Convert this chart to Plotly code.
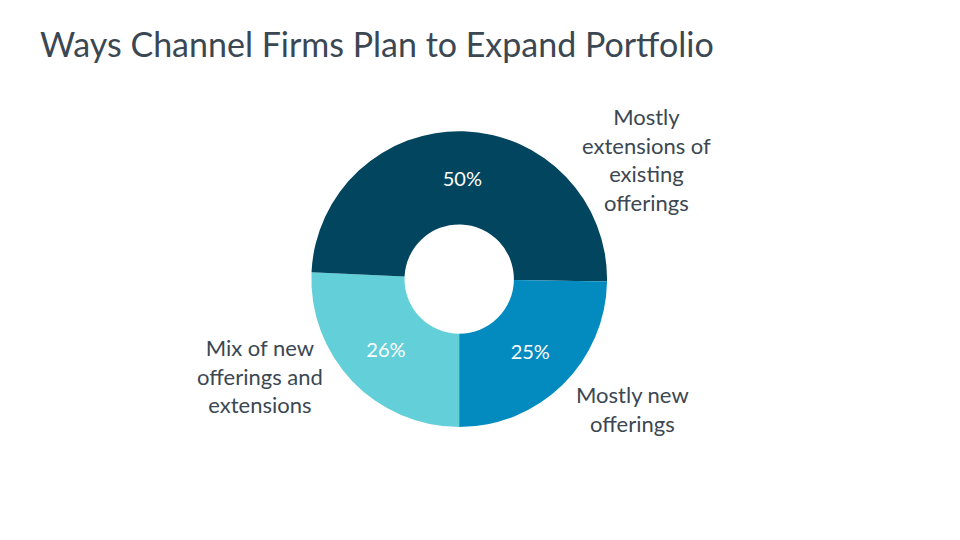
import plotly.graph_objects as go

# slice data, in drawing order (clockwise from 6 o'clock)
labels = ["Mix of new offerings and extensions",
          "Mostly extensions of existing offerings",
          "Mostly new offerings"]
values = [26, 50, 25]
colors = ["#63CFD9", "#02455F", "#038BBF"]

# wrapped label text shown next to each slice
label_text = ["Mix of new<br>offerings and<br>extensions",
              "Mostly<br>extensions of<br>existing<br>offerings",
              "Mostly new<br>offerings"]

# page body adds an 8px offset, so pixel targets are shifted back by 8
off = 8
label_pos = [((260 - off) / 960, 1 - (376 - off) / 540),
             ((646 - off) / 960, 1 - (159 - off) / 540),
             ((632 - off) / 960, 1 - (409 - off) / 540)]

text_color = "#3B4752"
font = "Lato, 'Open Sans', sans-serif"

fig = go.Figure(go.Pie(
    labels=labels,
    values=values,
    hole=0.37,
    sort=False,
    direction="clockwise",
    rotation=180,
    marker=dict(colors=colors, line=dict(width=0)),
    texttemplate="%{value}%",
    textposition="inside",
    insidetextorientation="horizontal",
    insidetextfont=dict(color="white", size=20, family=font),
    domain=dict(x=[0.316, 0.624], y=[0.224, 0.772]),
    showlegend=False,
))

for txt, (x, y) in zip(label_text, label_pos):
    fig.add_annotation(text=txt, x=x, y=y, xref="paper", yref="paper",
                       xanchor="center", yanchor="middle",
                       showarrow=False, align="center",
                       font=dict(size=22, color=text_color, family=font))

fig.update_layout(
    width=960, height=540,
    margin=dict(l=0, r=0, t=0, b=0),
    paper_bgcolor="white",
    title=dict(text="Ways Channel Firms Plan to Expand Portfolio",
               x=(40 - off) / 960, xanchor="left", y=1 - (45 - off) / 540, yanchor="middle",
               font=dict(size=34, color=text_color, family=font)),
)

fig.write_html("out.html")
